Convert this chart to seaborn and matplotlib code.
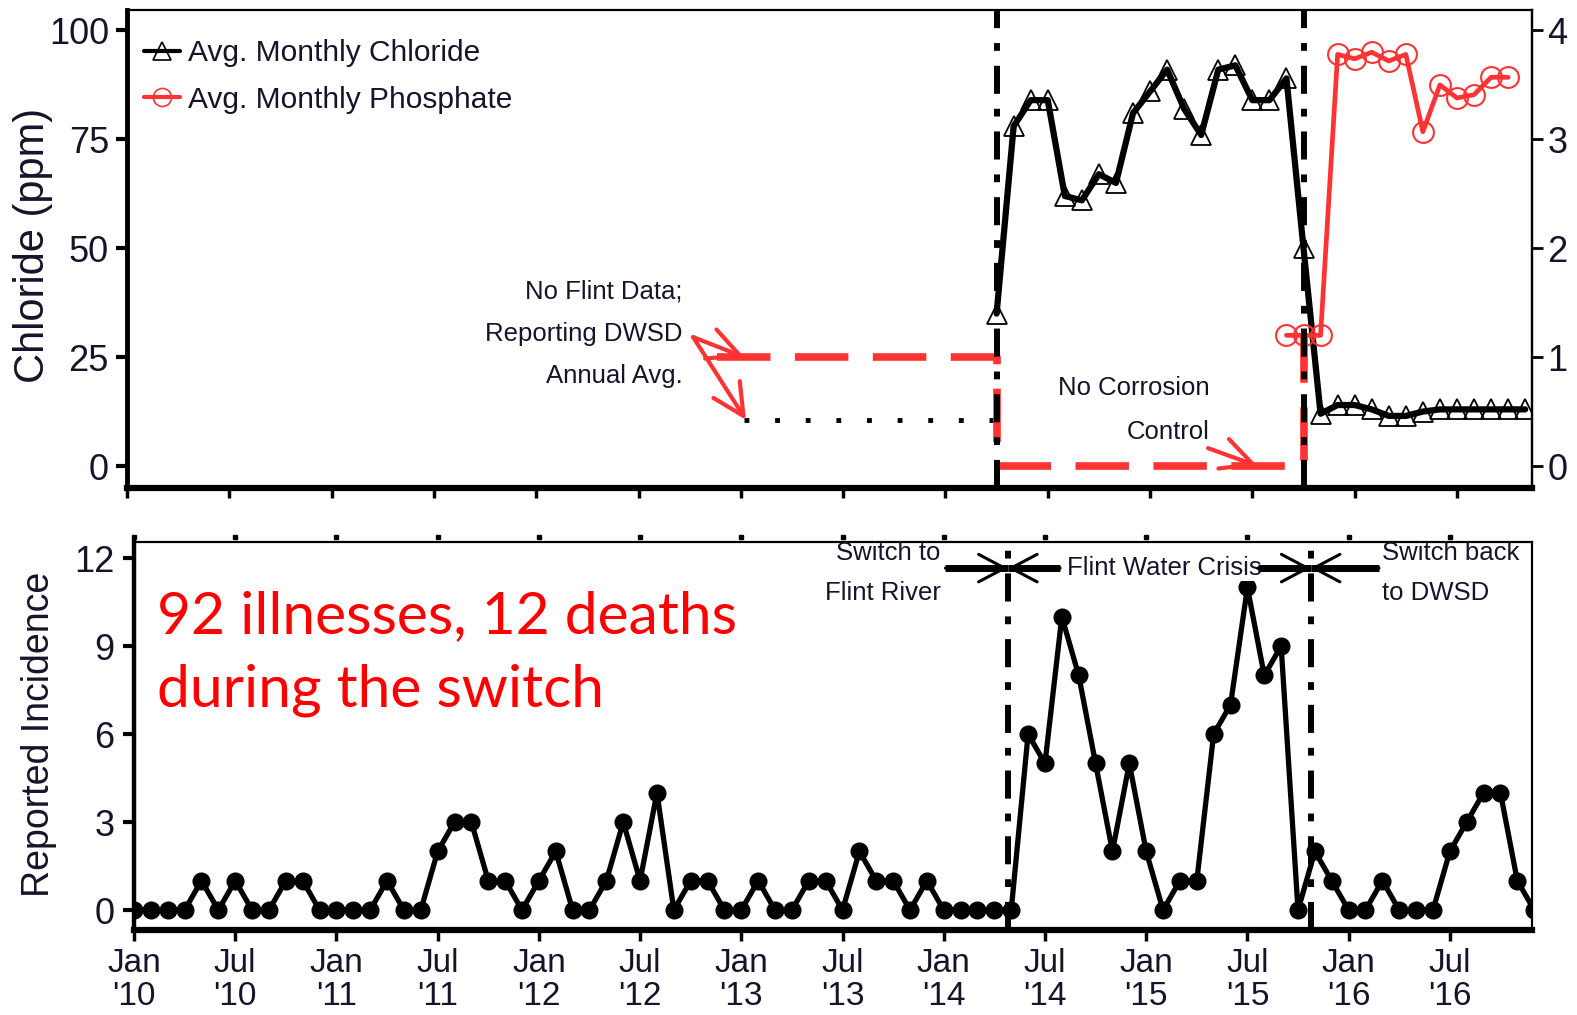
import matplotlib
matplotlib.use("Agg")
import matplotlib.pyplot as plt
import matplotlib.transforms as mtransforms
from matplotlib.lines import Line2D
import numpy as np
import pandas as pd
import seaborn as sns

# ---------------------------------------------------------------------------
# Data (x = months since Jan 2010)
# ---------------------------------------------------------------------------
chloride_months = list(range(51, 83))
chloride_ppm = [35, 78, 84, 84, 62, 61, 67, 65, 81, 86, 91, 82, 76, 91, 92, 84,
                84, 89, 50, 12, 14, 14, 13, 11.5, 11.5, 12.5, 13, 13, 13, 13,
                13, 13]

phosphate_months = list(range(68, 82))
phosphate_mgl = [1.2, 1.2, 1.2, 3.78, 3.74, 3.80, 3.72, 3.78, 3.07, 3.50, 3.38,
                 3.41, 3.57, 3.57]

incidence_months = list(range(0, 84))
incidence = [0, 0, 0, 0, 1, 0, 1, 0, 0, 1, 1, 0,
             0, 0, 0, 1, 0, 0, 2, 3, 3, 1, 1, 0,
             1, 2, 0, 0, 1, 3, 1, 4, 0, 1, 1, 0,
             0, 1, 0, 0, 1, 1, 0, 2, 1, 1, 0, 1,
             0, 0, 0, 0, 0, 6, 5, 10, 8, 5, 2, 5,
             2, 0, 1, 1, 6, 7, 11, 8, 9, 0, 2, 1,
             0, 0, 1, 0, 0, 0, 2, 3, 4, 4, 1, 0]

# DWSD annual averages reported before Flint data exist
dwsd_phosphate_avg = 1.0      # mg/L
dwsd_chloride_avg = 10.5      # ppm
dwsd_phosphate_start = 34.6
dwsd_chloride_start = 36.2

# Water-source switch dates (monthly and exact-day resolution)
switch_month, switch_back_month = 51.0, 69.0
switch_day, switch_back_day = 51.8, 69.75
crisis_phosphate_after = 1.2

tick_months = list(range(0, 79, 6))
tick_labels = [f"{m}\n'{y}" for y in range(10, 17) for m in ("Jan", "Jul")]

chloride_ticks = [0, 25, 50, 75, 100]
phosphate_ticks = [0, 1, 2, 3, 4]
incidence_ticks = [0, 3, 6, 9, 12]

# ---------------------------------------------------------------------------
# Style
# ---------------------------------------------------------------------------
sns.set_theme(style="ticks")
plt.rcParams["font.family"] = ["Liberation Sans", "DejaVu Sans"]
plt.rcParams["axes.unicode_minus"] = False

RED = "#ff3333"
INK = "#14142a"
dashdot = (0, (4.7, 2.5, 1.3, 2.5))

W, H = 1577, 1015
fig = plt.figure(figsize=(W / 100, H / 100), dpi=100)
ax = fig.add_axes([127 / W, 1 - 488 / H, 1405 / W, 478 / H])
axb = fig.add_axes([134 / W, 1 - 930 / H, 1398 / W, 388 / H])
for a in (ax, axb):
    a.set_facecolor("white")

# ---------------------------------------------------------------------------
# Top panel: chloride (left axis) and phosphate (right axis)
# ---------------------------------------------------------------------------
top_df = pd.DataFrame({"month": chloride_months, "chloride": chloride_ppm})
sns.lineplot(data=top_df, x="month", y="chloride", ax=ax, color="black",
             lw=4.5, marker="^", ms=15, mfc="none", mec="black", mew=1.3,
             zorder=3)

ax.plot([dwsd_chloride_start, switch_month],
        [dwsd_chloride_avg, dwsd_chloride_avg],
        color="black", lw=3.5, ls=(0, (1, 5.3)), zorder=2)

ax2 = ax.twinx()
phos_df = pd.DataFrame({"month": phosphate_months, "phosphate": phosphate_mgl})
sns.lineplot(data=phos_df, x="month", y="phosphate", ax=ax2, color=RED,
             lw=3.4, marker="o", ms=15, mfc="none", mec=RED, mew=1.5,
             zorder=3)

ax2.plot([dwsd_phosphate_start, switch_month, switch_month,
          switch_back_month, switch_back_month],
         [dwsd_phosphate_avg, dwsd_phosphate_avg, 0, 0,
          crisis_phosphate_after],
         color=RED, lw=5.5, ls=(0, (7, 3.2)), zorder=2)

for xv in (switch_month, switch_back_month):
    ax2.axvline(xv, color="black", lw=4.3, ls=dashdot, zorder=6)

ax.set_xlim(0, 82.4)
ax.set_ylim(-5.05, 104.7)
ax2.set_ylim(-5.05 / 25, 104.7 / 25)
ax.set_xticks(tick_months)
ax.set_xticklabels([])
ax.set_yticks(chloride_ticks)
ax2.set_yticks(phosphate_ticks)
ax.set_xlabel("")
ax.set_ylabel("Chloride (ppm)", fontsize=30, color=INK)
ax.yaxis.set_label_coords(-0.053, 0.508)
ax2.set_ylabel("")

ax.tick_params(axis="y", direction="out", length=8, width=3, pad=5,
               labelsize=26, labelcolor=INK, color="black")
ax.tick_params(axis="x", direction="out", length=7, width=2.5, color="black")
ax2.tick_params(axis="y", direction="out", length=8, width=2, pad=3,
                labelsize=26, labelcolor=INK, color="black")

for name, lw in (("left", 3.5), ("bottom", 4.5), ("top", 1.6), ("right", 1.6)):
    ax.spines[name].set_linewidth(lw)
    ax.spines[name].set_color("black")
for name in ("left", "bottom", "top"):
    ax2.spines[name].set_visible(False)
ax2.spines["right"].set_linewidth(1.6)
ax2.spines["right"].set_color("black")

handles = [
    Line2D([], [], color="black", lw=3, marker="^", ms=13, mfc="none",
           mec="black", mew=1.2),
    Line2D([], [], color=RED, lw=3, marker="o", ms=13, mfc="none",
           mec=RED, mew=1.2),
]
ax.legend(handles, ["Avg. Monthly Chloride", "Avg. Monthly Phosphate"],
          loc="upper left", bbox_to_anchor=(-0.003, 0.983), frameon=False,
          fontsize=21.5, handlelength=1.2, handletextpad=0.3,
          labelspacing=0.62, borderaxespad=0.3, labelcolor=INK)

note_kw = dict(fontsize=18.5, color=INK, ha="right", va="center",
               multialignment="right")
ax.text(32.6, 30.4, "No Flint Data;\nReporting DWSD\nAnnual Avg.",
        linespacing=1.95, **note_kw)
ax.text(63.5, 12.9, "No Corrosion\nControl", linespacing=2.05, **note_kw)

red_arrow = dict(arrowstyle="->,head_length=0.9,head_width=0.45", color=RED,
                 lw=3, mutation_scale=25, shrinkA=0, shrinkB=0)
ax.annotate("", xy=(dwsd_chloride_start, 25), xytext=(33.2, 29.6),
            arrowprops=red_arrow, zorder=7)
ax.annotate("", xy=(dwsd_chloride_start + 0.1, dwsd_chloride_avg + 0.1),
            xytext=(33.2, 29.6), arrowprops=red_arrow, zorder=7)
ax.annotate("", xy=(66.3, 0.0), xytext=(63.4, 4.1),
            arrowprops=red_arrow, zorder=7)

# ---------------------------------------------------------------------------
# Bottom panel: reported incidence
# ---------------------------------------------------------------------------
inc_df = pd.DataFrame({"month": incidence_months, "cases": incidence})
sns.lineplot(data=inc_df, x="month", y="cases", ax=axb, color="black",
             lw=3.8, marker="o", ms=12, mfc="black", mec="black", mew=1,
             zorder=3)

for xv in (switch_day, switch_back_day):
    axb.axvline(xv, color="black", lw=4.3, ls=dashdot, zorder=4)

axb.set_xlim(0, 82.87)
axb.set_ylim(-0.68, 12.55)
axb.set_yticks(incidence_ticks)
axb.set_xticks(tick_months)
axb.set_xticklabels(tick_labels, linespacing=1.08)
axb.set_xlabel("")
axb.set_ylabel("Reported Incidence", fontsize=27, color=INK)
axb.yaxis.set_label_coords(-0.055, 0.503)
axb.tick_params(axis="y", direction="out", length=8, width=3, pad=6,
                labelsize=26, labelcolor=INK, color="black")
axb.tick_params(axis="x", direction="out", length=8, width=2.5, pad=5,
                labelsize=24, labelcolor=INK, color="black")
for name, lw in (("left", 3.2), ("bottom", 4.5), ("top", 1.6), ("right", 1.6)):
    axb.spines[name].set_linewidth(lw)
    axb.spines[name].set_color("black")

# small tick dots just above the top frame
blend = mtransforms.blended_transform_factory(axb.transData, axb.transAxes)
axb.plot(tick_months, [1.014] * len(tick_months), transform=blend, ls="none",
         marker="s", ms=2.6, color="black", clip_on=False)

# period annotations along the top
bar_y = 11.66
for x0, x1 in ((48.1, switch_day), (switch_day, 54.9),
               (66.6, switch_back_day), (switch_back_day, 73.8)):
    axb.plot([x0, x1], [bar_y, bar_y], color="black", lw=5,
             solid_capstyle="butt", zorder=5)
head = dict(arrowstyle="->,head_length=0.85,head_width=0.45", color="black",
            lw=2.2, mutation_scale=22, shrinkA=0, shrinkB=0)
for xv, left, right in ((switch_day, 48.1, 54.9),
                        (switch_back_day, 66.6, 73.8)):
    axb.annotate("", xy=(xv, bar_y), xytext=(left, bar_y), arrowprops=head,
                 zorder=6)
    axb.annotate("", xy=(xv, bar_y), xytext=(right, bar_y), arrowprops=head,
                 zorder=6)

axb.text(47.8, 11.49, "Switch to\nFlint River", fontsize=18.5, color=INK,
         ha="right", va="center", multialignment="right", linespacing=1.8)
axb.text(61.1, bar_y, "Flint Water Crisis", fontsize=18.5, color=INK,
         ha="center", va="center",
         bbox=dict(facecolor="white", edgecolor="none", pad=0.5))
axb.text(74.0, 11.49, "Switch back\nto DWSD", fontsize=18.5, color=INK,
         ha="left", va="center", multialignment="left", linespacing=1.8)

axb.text(1.36, 8.75, "92 illnesses, 12 deaths\nduring the switch",
         fontsize=42.3, color="#ff0000", family=["Lato", "DejaVu Sans"],
         ha="left", va="center", linespacing=1.48)

fig.savefig("out.png", dpi=100, facecolor="white")
